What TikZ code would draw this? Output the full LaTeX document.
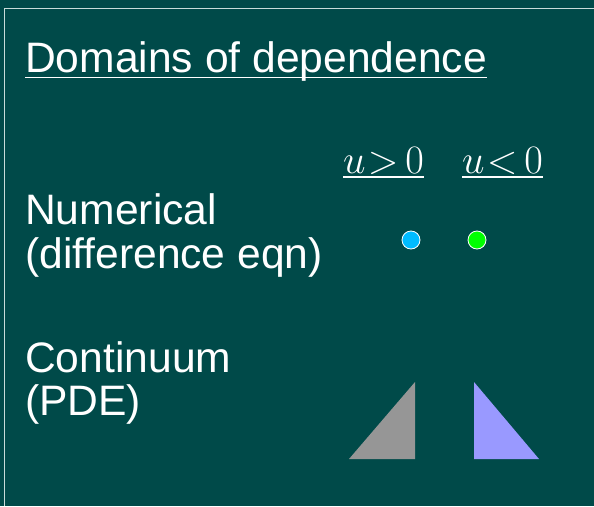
\documentclass[tikz,border=0pt]{standalone}
\usepackage{graphicx}
\usepackage{fontspec}
\setmainfont{Liberation Sans}
\definecolor{bgcol}{RGB}{0,74,73}
\definecolor{dotblue}{RGB}{0,187,255}
\definecolor{dotgreen}{RGB}{0,255,0}
\definecolor{trigray}{RGB}{150,150,150}
\definecolor{triblue}{RGB}{153,153,255}
\definecolor{framecol}{RGB}{200,220,218}
\tikzset{
  txt/.style={text=white, inner sep=0pt, anchor=base west, font=\fontsize{42.6}{44}\selectfont},
  mathtxt/.style={text=white, inner sep=0pt, anchor=base west, font=\fontsize{24.88}{27}\selectfont},
  uline/.style={draw=white, line width=1.6pt},
  dotstyle/.style={circle, draw=white, line width=0.8pt, minimum size=18pt, inner sep=0pt},
}
\begin{document}
\begin{tikzpicture}[x=1pt, y=-1pt]
\fill[bgcol] (0,0) rectangle (594,506);
\useasboundingbox (0,0) rectangle (594,506);
% frame
\coordinate (fbl) at (4.5,506);
\coordinate (ftl) at (4.5,8);
\coordinate (ftr) at (594,8);
\draw[framecol, line width=1pt] (fbl) -- (ftl) -- (ftr);
% title
\node[txt] (title) at (25,72) {Domains of dependence};
\draw[uline] ([yshift=-5.5pt]title.base west) -- ([yshift=-5.5pt]title.base east);
% row labels
\node[txt] (num1) at (25,224) {Numerical};
\node[txt] (num2) at (25,268) {(difference eqn)};
\node[txt] (cont1) at (25,372) {Continuum};
\node[txt] (cont2) at (25,415) {(PDE)};
% column headers
\node[mathtxt] (upos) at (343,173) {\scalebox{1.62}{$u\mkern1mu{>}\mkern3mu0$}};
\draw[uline] ([yshift=-4pt]upos.base west) -- ([yshift=-4pt]upos.base east);
\node[mathtxt] (uneg) at (462,173) {\scalebox{1.62}{$u\mkern1mu{<}\mkern3mu0$}};
\draw[uline] ([yshift=-4pt]uneg.base west) -- ([yshift=-4pt]uneg.base east);
% dots
\node[dotstyle, fill=dotblue] (bdot) at (411,240) {};
\node[dotstyle, fill=dotgreen] (gdot) at (477,240) {};
% triangles
\fill[trigray] (349,459) -- (415,459) -- (415,382) -- cycle;
\fill[triblue] (474,382) -- (474,459) -- (539,459) -- cycle;
\end{tikzpicture}
\end{document}
